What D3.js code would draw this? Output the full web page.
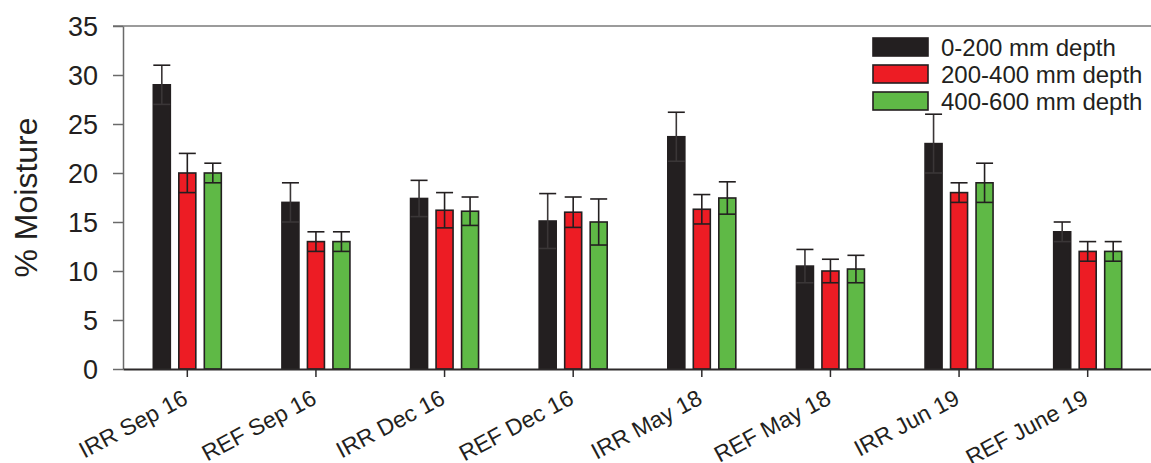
<!DOCTYPE html>
<html>
<head>
<meta charset="utf-8">
<script src="https://cdn.jsdelivr.net/npm/d3@7"></script>
<style>
  body { margin: 0; background: #fff; }
  svg { font-family: Arial, "Liberation Sans", sans-serif; }
</style>
</head>
<body>
<div id="chart"></div>
<script>
// data
const categories = ["IRR Sep 16", "REF Sep 16", "IRR Dec 16", "REF Dec 16",
                    "IRR May 18", "REF May 18", "IRR Jun 19", "REF June 19"];
const series = ["0-200 mm depth", "200-400 mm depth", "400-600 mm depth"];
const depth0 = [29, 17, 17.4, 15.1, 23.7, 10.5, 23, 14];
const depth1 = [20, 13, 16.2, 16, 16.3, 10, 18, 12];
const depth2 = [20, 13, 16.1, 15, 17.45, 10.2, 19, 12];
const err0 = [2, 2, 1.85, 2.8, 2.5, 1.7, 3, 1];
const err1 = [2, 1, 1.8, 1.55, 1.5, 1.2, 1, 1];
const err2 = [1, 1, 1.45, 2.35, 1.65, 1.4, 2, 1];
const yTicks = [0, 5, 10, 15, 20, 25, 30, 35];
const colors = ["#231f20", "#ed1c24", "#5fb946"];

const values = [depth0, depth1, depth2];
const errors = [err0, err1, err2];

const width = 1151, height = 463;
const margin = {top: 26, right: -1, bottom: 94, left: 123};
const ink = "#231f20";

const svg = d3.select("#chart").append("svg")
  .attr("width", width)
  .attr("height", height);

const x = d3.scaleBand()
  .domain(categories)
  .range([margin.left, width - margin.right])
  .paddingInner(0).paddingOuter(0);

const x1 = d3.scalePoint()
  .domain(series)
  .range([-25.5, 25.5]);

const y = d3.scaleLinear()
  .domain([0, 35])
  .range([height - margin.bottom, margin.top]);

const barW = 17;

// top frame line
svg.append("line")
  .attr("x1", margin.left - 10).attr("x2", width)
  .attr("y1", y(35)).attr("y2", y(35))
  .attr("stroke", "#7a7a7a").attr("stroke-width", 1.5);

// y axis
const yAxis = svg.append("g")
  .attr("transform", `translate(${margin.left},0)`)
  .call(d3.axisLeft(y).tickValues(yTicks).tickSize(10).tickSizeOuter(0).tickPadding(15));
yAxis.select(".domain").attr("stroke", "#6a6a6a").attr("stroke-width", 1.5);
yAxis.selectAll(".tick line").attr("stroke", "#6a6a6a").attr("stroke-width", 1.5);
yAxis.selectAll(".tick text")
  .attr("font-size", 27).attr("fill", ink).attr("dy", "0.36em")
  .attr("font-family", "Arial, 'Liberation Sans', sans-serif");

// groups of bars
const groups = svg.append("g").selectAll("g")
  .data(categories)
  .join("g")
  .attr("transform", d => `translate(${x(d) + x.bandwidth() / 2},0)`);

series.forEach((s, si) => {
  groups.append("rect")
    .attr("x", x1(s) - barW / 2)
    .attr("y", (d, i) => y(values[si][i]))
    .attr("width", barW)
    .attr("height", (d, i) => y(0) - y(values[si][i]))
    .attr("fill", colors[si])
    .attr("stroke", ink)
    .attr("stroke-width", 1.6);
});

// error bars
series.forEach((s, si) => {
  const cx = x1(s);
  groups.append("line")
    .attr("x1", cx).attr("x2", cx)
    .attr("y1", (d, i) => y(values[si][i] - errors[si][i]))
    .attr("y2", (d, i) => y(values[si][i] + errors[si][i]))
    .attr("stroke", si === 0 ? "#3a3637" : ink).attr("stroke-width", 1.6);
  groups.append("line")
    .attr("x1", cx - barW / 2).attr("x2", cx + barW / 2)
    .attr("y1", (d, i) => y(values[si][i] + errors[si][i]))
    .attr("y2", (d, i) => y(values[si][i] + errors[si][i]))
    .attr("stroke", ink).attr("stroke-width", 1.6);
  groups.append("line")
    .attr("x1", cx - barW / 2).attr("x2", cx + barW / 2)
    .attr("y1", (d, i) => y(values[si][i] - errors[si][i]))
    .attr("y2", (d, i) => y(values[si][i] - errors[si][i]))
    .attr("stroke", si === 0 ? "#3a3637" : ink).attr("stroke-width", 1.6);
});

// x axis
const xAxis = svg.append("g")
  .attr("transform", `translate(0,${y(0)})`)
  .call(d3.axisBottom(x).tickSize(8).tickSizeOuter(0));
xAxis.select(".domain").attr("stroke", "#2d2a2b").attr("stroke-width", 1.8);
xAxis.selectAll(".tick line").attr("stroke", "#2d2a2b").attr("stroke-width", 1.5);
xAxis.selectAll(".tick text")
  .attr("font-size", 23).attr("fill", ink)
  .attr("font-family", "Arial, 'Liberation Sans', sans-serif")
  .attr("text-anchor", "end")
  .attr("x", 0).attr("y", 0).attr("dy", 0)
  .attr("transform", "translate(2,34) rotate(-28)");

// y label
svg.append("text")
  .attr("transform", `translate(37,${(y(0) + y(35)) / 2}) rotate(-90)`)
  .attr("text-anchor", "middle")
  .attr("font-size", 32)
  .attr("fill", ink)
  .text("% Moisture");

// legend
const legend = svg.append("g")
  .attr("transform", "translate(873,38)");
series.forEach((s, si) => {
  const g = legend.append("g").attr("transform", `translate(0,${si * 27})`);
  g.append("rect")
    .attr("width", 55).attr("height", 18)
    .attr("fill", colors[si]).attr("stroke", ink).attr("stroke-width", 1.6);
  g.append("text")
    .attr("x", 68).attr("y", 9).attr("dy", "0.36em")
    .attr("font-size", 24).attr("fill", ink)
    .text(s);
});
</script>
</body>
</html>
